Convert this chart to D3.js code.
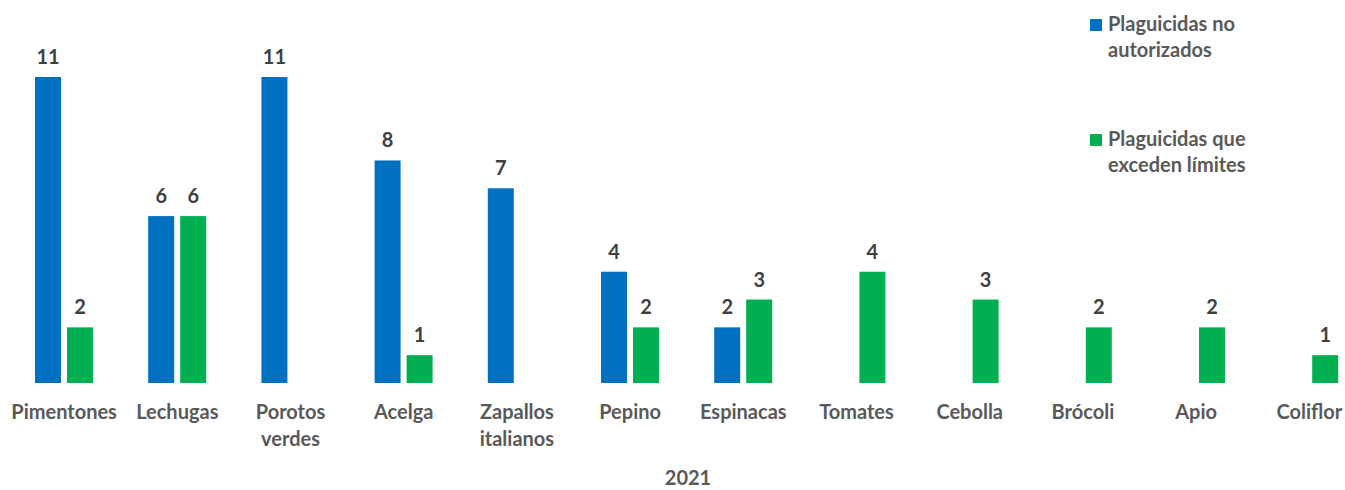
<!DOCTYPE html>
<html>
<head>
<meta charset="utf-8">
<script src="https://cdn.jsdelivr.net/npm/d3@7"></script>
<style>
  html, body { margin: 0; padding: 0; background: #fff; }
  svg { display: block; font-family: Lato, "Open Sans", sans-serif; font-weight: 700; }
</style>
</head>
<body>
<svg id="chart" width="1345" height="490"></svg>
<script>
// Productos analizados (cada etiqueta puede tener dos líneas)
const categories = [
  ["Pimentones"], ["Lechugas"], ["Porotos", "verdes"], ["Acelga"],
  ["Zapallos", "italianos"], ["Pepino"], ["Espinacas"], ["Tomates"],
  ["Cebolla"], ["Brócoli"], ["Apio"], ["Coliflor"]
];
const seriesNames = [
  ["Plaguicidas no", "autorizados"],
  ["Plaguicidas que", "exceden límites"]
];
// null = sin detección (sin barra)
const noAutorizados = [11, 6, 11, 8, 7, 4, 2, null, null, null, null, null];
const excedenLimites = [2, 6, null, 1, null, 2, 3, 4, 3, 2, 2, 1];
const yearLabel = "2021";
const colors = ["#0070C0", "#00B050"];

const svg = d3.select("#chart");
const baseline = 383;
const fs = 20;

const x = d3.scaleBand()
  .domain(d3.range(categories.length))
  .range([6.5, 6.5 + 113.2 * categories.length])
  .paddingInner(0)
  .paddingOuter(0);

const xInner = d3.scaleBand()
  .domain([0, 1])
  .range([28.5, 28.5 + 58])
  .paddingInner(6 / 32)
  .paddingOuter(0);

const y = d3.scaleLinear().domain([0, 11]).range([baseline, 77]);

const series = [noAutorizados, excedenLimites];
const rows = [];
series.forEach((vals, s) => vals.forEach((v, i) => {
  if (v != null) rows.push({ s, i, v });
}));

svg.append("g").selectAll("rect")
  .data(rows)
  .join("rect")
  .attr("x", d => x(d.i) + xInner(d.s))
  .attr("y", d => y(d.v))
  .attr("width", xInner.bandwidth())
  .attr("height", d => baseline - y(d.v))
  .attr("fill", d => colors[d.s]);

svg.append("g").selectAll("text")
  .data(rows)
  .join("text")
  .attr("x", d => x(d.i) + xInner(d.s) + xInner.bandwidth() / 2)
  .attr("y", d => y(d.v) - 13)
  .attr("text-anchor", "middle")
  .attr("font-size", fs)
  .attr("fill", "#404040")
  .text(d => d.v);

// Etiquetas de categoría
const catG = svg.append("g").selectAll("text")
  .data(categories)
  .join("text")
  .attr("x", (d, i) => x(i) + x.bandwidth() / 2 + 1)
  .attr("y", 419)
  .attr("text-anchor", "middle")
  .attr("font-size", fs)
  .attr("fill", "#595959");
catG.selectAll("tspan")
  .data(d => d)
  .join("tspan")
  .attr("x", function () { return d3.select(this.parentNode).attr("x"); })
  .attr("dy", (d, j) => j === 0 ? 0 : 27)
  .text(d => d);

svg.append("text")
  .attr("x", 688)
  .attr("y", 485)
  .attr("text-anchor", "middle")
  .attr("font-size", fs)
  .attr("fill", "#595959")
  .text(yearLabel);

// Leyenda
const legend = svg.append("g").selectAll("g")
  .data(seriesNames)
  .join("g")
  .attr("transform", (d, i) => `translate(1090, ${i === 0 ? 19 : 134})`);
legend.append("rect")
  .attr("width", 12).attr("height", 12)
  .attr("fill", (d, i) => colors[i]);
const lt = legend.append("text")
  .attr("x", 18)
  .attr("y", 12)
  .attr("font-size", fs)
  .attr("fill", "#595959");
lt.selectAll("tspan")
  .data(d => d)
  .join("tspan")
  .attr("x", 18)
  .attr("dy", (d, j) => j === 0 ? 0 : 26)
  .text(d => d);
</script>
</body>
</html>
